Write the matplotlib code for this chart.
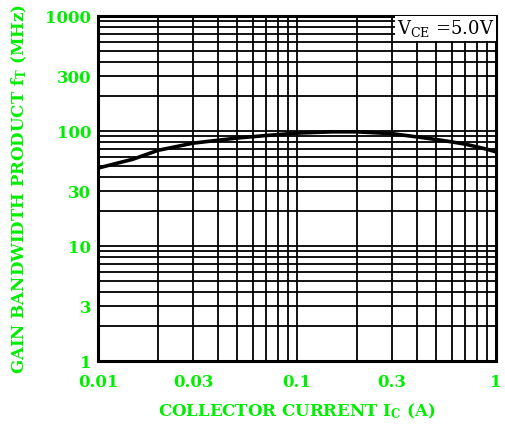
import matplotlib
matplotlib.use('Agg')
import matplotlib.pyplot as plt
from matplotlib.ticker import FixedLocator, LogLocator, NullFormatter

# data
ic = [0.01, 0.015, 0.02, 0.03, 0.05, 0.07, 0.1, 0.15, 0.2, 0.3, 0.4, 0.5, 0.6, 0.7, 0.8, 0.9, 1.0]
ft = [47.7, 57, 68, 78.5, 87, 91.5, 96, 98.5, 98.5, 95, 89, 84.5, 80.5, 77, 73, 69.5, 66]

xticks = [0.01, 0.03, 0.1, 0.3, 1]
xticklabels = ['0.01', '0.03', '0.1', '0.3', '1']
yticks = [1, 3, 10, 30, 100, 300, 1000]
yticklabels = ['1', '3', '10', '30', '100', '300', '1000']

green = '#00EE00'
plt.rcParams['font.family'] = 'DejaVu Serif'
plt.rcParams['mathtext.fontset'] = 'dejavuserif'

fig = plt.figure(figsize=(5.06, 4.34), dpi=100)
ax = fig.add_axes([0.194, 0.168, 0.786, 0.795])

ax.set_xscale('log')
ax.set_yscale('log')
ax.set_xlim(0.01, 1)
ax.set_ylim(1, 1000)

# grid: decade lines and minor lines at 2..9
ax.xaxis.set_major_locator(FixedLocator(xticks))
ax.yaxis.set_major_locator(FixedLocator(yticks))
ax.xaxis.set_minor_locator(LogLocator(base=10, subs=range(1, 10), numticks=20))
ax.yaxis.set_minor_locator(LogLocator(base=10, subs=range(1, 10), numticks=20))
ax.xaxis.set_minor_formatter(NullFormatter())
ax.yaxis.set_minor_formatter(NullFormatter())
ax.grid(which='minor', color='black', linewidth=1.3)
ax.grid(which='major', color='black', linewidth=1.3)

ax.set_xticklabels(xticklabels)
ax.set_yticklabels(yticklabels)
ax.tick_params(which='both', length=0, colors=green, labelsize=12)
ax.tick_params(axis='x', pad=9)
ax.tick_params(axis='y', pad=5)
for lab in ax.get_xticklabels() + ax.get_yticklabels():
    lab.set_fontweight('bold')

for sp in ax.spines.values():
    sp.set_linewidth(2.2)
    sp.set_color('black')

ax.plot(ic, ft, color='black', linewidth=2.6, zorder=5)

ax.text(0.996, 0.994, r'V$_{\rm CE}$ =5.0V', transform=ax.transAxes,
        ha='right', va='top', fontsize=13, color='black', zorder=6,
        bbox=dict(facecolor='white', edgecolor='none', pad=1.5))

ax.set_xlabel(r'COLLECTOR CURRENT I$_{\mathbf{C}}$ (A)', color=green,
              fontsize=12, fontweight='bold', labelpad=8)
ax.set_ylabel(r'GAIN BANDWIDTH PRODUCT f$_{\mathbf{T}}$ (MHz)', color=green,
              fontsize=12, fontweight='bold', labelpad=12)

fig.savefig('out.png', dpi=100)
